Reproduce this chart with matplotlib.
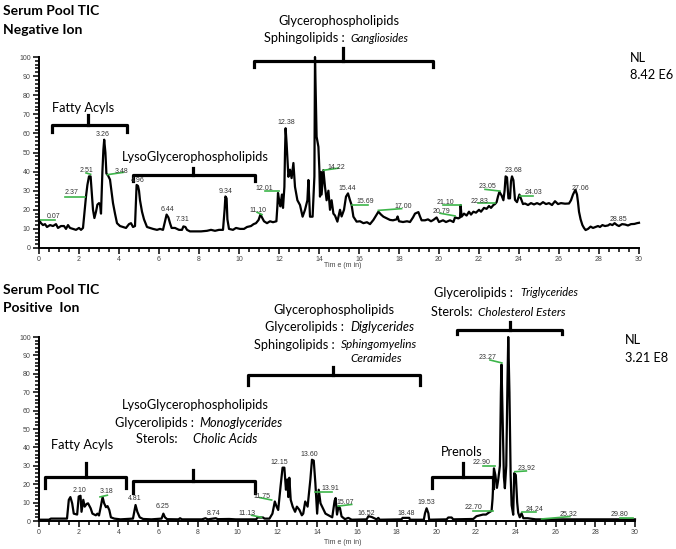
import matplotlib
matplotlib.use("Agg")
import matplotlib.pyplot as plt
from matplotlib.ticker import MultipleLocator

plt.rcParams['font.family'] = ['Lato', 'DejaVu Sans']

# negative ion TIC (relative abundance vs time, min)
neg_time = [0.0, 0.1, 0.2, 0.3, 0.4, 0.55, 0.7, 0.85, 0.95, 1.1, 1.25, 1.35, 1.45, 1.55, 1.7, 1.85,
            2.0, 2.1, 2.2, 2.27, 2.35, 2.42, 2.5, 2.58, 2.63, 2.7, 2.77, 2.85, 2.92, 3.0, 3.05, 3.1,
            3.17, 3.22, 3.26, 3.32, 3.37, 3.45, 3.55, 3.62, 3.7, 3.8, 3.9, 4.05, 4.2, 4.35, 4.5, 4.6,
            4.7, 4.8, 4.88, 4.95, 5.0, 5.05, 5.15, 5.25, 5.4, 5.55, 5.7, 5.9, 6.05, 6.2, 6.3, 6.38,
            6.47, 6.55, 6.63, 6.8, 7.0, 7.15, 7.22, 7.32, 7.4, 7.55, 7.8, 8.1, 8.4, 8.6, 8.8, 9.0,
            9.2, 9.28, 9.32, 9.38, 9.42, 9.5, 9.7, 9.85, 10.05, 10.25, 10.4, 10.6, 10.73, 10.85, 10.98, 11.07,
            11.15, 11.25, 11.4, 11.55, 11.7, 11.87, 11.92, 11.95, 12.02, 12.07, 12.12, 12.15, 12.2, 12.27, 12.3, 12.33,
            12.38, 12.47, 12.55, 12.63, 12.72, 12.8, 12.92, 13.05, 13.18, 13.3, 13.42, 13.47, 13.55, 13.68, 13.77, 13.8,
            13.88, 13.97, 14.02, 14.05, 14.1, 14.13, 14.22, 14.3, 14.38, 14.47, 14.55, 14.63, 14.72, 14.8, 14.92, 15.05,
            15.13, 15.25, 15.35, 15.45, 15.55, 15.63, 15.72, 15.88, 16.05, 16.22, 16.4, 16.55, 16.72, 16.88, 16.97, 17.1,
            17.22, 17.4, 17.55, 17.7, 17.88, 17.93, 18.0, 18.2, 18.4, 18.55, 18.7, 18.8, 18.97, 19.05, 19.13, 19.3,
            19.45, 19.6, 19.72, 19.88, 20.0, 20.2, 20.35, 20.55, 20.72, 20.8, 20.97, 21.05, 21.08, 21.13, 21.25, 21.38,
            21.5, 21.6, 21.72, 21.85, 22.0, 22.1, 22.25, 22.38, 22.5, 22.6, 22.72, 22.8, 22.88, 22.95, 23.02, 23.13,
            23.22, 23.28, 23.33, 23.4, 23.47, 23.55, 23.6, 23.65, 23.72, 23.8, 23.9, 24.02, 24.13, 24.2, 24.3, 24.45,
            24.6, 24.75, 24.9, 25.05, 25.2, 25.35, 25.5, 25.65, 25.8, 25.95, 26.1, 26.3, 26.5, 26.6, 26.7, 26.82,
            26.9, 26.95, 27.0, 27.08, 27.17, 27.25, 27.33, 27.45, 27.58, 27.7, 27.83, 27.95, 28.05, 28.17, 28.3, 28.45,
            28.55, 28.67, 28.78, 28.9, 29.0, 29.15, 29.3, 29.45, 29.6, 29.77, 29.9, 30.0]
neg_signal = [14.7, 13, 12, 12.5, 11, 12, 11.5, 12.5, 10.5, 11.5, 11.5, 10, 12, 10.5, 10, 9.5,
              10.5, 9.5, 10.5, 18, 27, 33, 37.5, 37.5, 30, 20, 15.7, 19, 22.7, 23.5, 23, 18,
              40, 51.5, 56.7, 50, 39, 38, 35.8, 30, 23.5, 18, 13, 11.5, 11, 10.5, 12.5, 13,
              11, 11.5, 33, 32.5, 30, 25, 19, 15, 11, 10.5, 10, 9.5, 10, 9.5, 14, 17.5,
              16, 13, 10.5, 10.5, 9.5, 9.5, 11.3, 11, 9.5, 8.7, 8.7, 8.7, 9, 9.5, 9, 9.5,
              9.5, 20, 27, 26, 15, 10, 9.5, 10.5, 10, 10, 11, 11.5, 12.5, 13, 14.7, 17.5,
              16, 14, 13, 14, 13.5, 14, 22, 28.8, 24, 21.8, 26, 28, 21, 32, 50, 62.7,
              54.8, 37.3, 41, 36.6, 44.5, 32, 25, 22.5, 16.4, 20, 25, 35.6, 16.4, 16.4, 37.5, 100,
              58.3, 53, 40.8, 26.9, 39.8, 28, 40.8, 32, 25, 30, 20, 25, 18, 17, 13.8, 20,
              16.5, 20, 26.9, 28.6, 25, 22.5, 16.4, 13.8, 14, 13, 13.5, 12.5, 14.7, 17.5, 19, 17.5,
              16.4, 15.5, 14.7, 14.5, 15, 16.5, 14, 13.6, 14, 13.6, 16, 18, 18.8, 16.5, 14.5, 14.5,
              15, 14, 14.7, 16, 13.6, 14.5, 13.6, 14.5, 13.6, 16, 15.5, 16, 22.5, 16.4, 18, 17,
              19, 17.5, 19, 18.5, 20, 19, 21, 20.5, 22, 21, 22.5, 23, 24, 27, 29.4, 27.5,
              25, 30, 37.5, 37, 26, 26, 35, 37.5, 35.5, 25.2, 24, 28, 25, 23, 23.3, 22.5,
              23.5, 22.8, 23.5, 22.8, 24, 23, 23.5, 22.5, 24.5, 23, 23.5, 23.2, 23.3, 25, 28, 30.5,
              28, 24, 19, 15, 12, 10.5, 9.4, 10, 11.2, 10.5, 11, 11.5, 11, 12, 11.5, 11.8,
              12.5, 12, 13, 12, 11.5, 12.5, 12.3, 11.8, 12.5, 12.6, 13, 13.2]

# positive ion TIC
pos_time = [0.0, 0.5, 0.6, 1.0, 1.41, 1.5, 1.58, 1.67, 1.75, 1.92, 2.0, 2.09, 2.14, 2.23, 2.3, 2.4,
            2.47, 2.6, 2.69, 2.86, 2.94, 3.02, 3.11, 3.2, 3.28, 3.37, 3.45, 3.54, 3.62, 3.79, 4.1, 4.73,
            4.81, 4.86, 4.95, 5.07, 5.24, 5.66, 6.17, 6.26, 6.34, 6.45, 7.02, 7.1, 7.2, 8.2, 8.38, 8.5,
            8.9, 9.0, 9.57, 9.9, 10.93, 11.0, 11.28, 11.35, 11.6, 11.75, 11.87, 11.96, 12.04, 12.16, 12.26, 12.35,
            12.43, 12.5, 12.55, 12.6, 12.67, 12.77, 12.89, 12.98, 13.11, 13.23, 13.3, 13.4, 13.52, 13.66, 13.74, 13.83,
            13.91, 14.0, 14.08, 14.17, 14.25, 14.42, 14.59, 14.76, 14.88, 14.93, 15.0, 15.08, 15.15, 15.23, 15.4, 15.57,
            15.74, 16.49, 16.58, 16.74, 16.99, 17.08, 17.15, 18.25, 18.3, 18.64, 18.67, 19.37, 19.43, 19.51, 19.6, 19.64,
            20.52, 20.6, 20.77, 20.85, 21.86, 22.02, 22.35, 22.5, 22.66, 22.78, 22.83, 22.9, 22.97, 23.05, 23.11, 23.2,
            23.25, 23.28, 23.33, 23.4, 23.45, 23.52, 23.58, 23.62, 23.68, 23.74, 23.79, 23.87, 23.92, 24.0, 24.07, 24.12,
            24.2, 24.29, 24.38, 24.6, 25.0, 26.0, 27.0, 28.0, 29.0, 30.0]
pos_signal = [0.7, 0.7, 1.3, 1.3, 1.3, 11.5, 13, 9.6, 4, 3.5, 13.3, 13.7, 5, 11.5, 7.8, 9.3,
              9.6, 6.9, 4, 3.1, 4, 3, 7.8, 13, 9.6, 7.5, 8.1, 5.9, 2, 1.3, 0.9, 1.3,
              5.9, 8.7, 5, 2, 1.1, 0.9, 1.3, 4, 2, 1, 0.9, 1.5, 0.9, 0.9, 1.5, 0.9,
              1.5, 1, 1.1, 0.9, 0.9, 1.9, 1.9, 1.3, 1.3, 4, 10.6, 7.8, 6, 18.9, 29, 29,
              17, 22.6, 13, 23.5, 11.5, 7.8, 5, 7.8, 6, 3.1, 4, 10.6, 7.8, 22.6, 33.3, 32.8,
              20.7, 4, 17, 9.6, 7.8, 4, 3, 2, 11, 12.5, 3.5, 8, 7, 2.5, 1, 1.7,
              0.7, 0.9, 2.6, 2.2, 0.9, 1.7, 0.7, 0.9, 1.7, 1.7, 0.7, 0.7, 4.2, 6.9, 4.2, 0.7,
              0.9, 1.9, 1.9, 0.9, 1.1, 2.6, 3.5, 3.5, 4.7, 5.5, 12, 28.6, 25, 18, 22, 30,
              70, 85, 60, 24, 17.8, 30, 75, 100, 70, 25, 8.6, 3.4, 26, 25, 10, 4.5,
              2, 4.2, 1.5, 1.5, 0.9, 0.9, 0.9, 0.9, 0.9, 0.9]

# retention time labels
neg_rt = ["0.07", "2.37", "2.51", "3.26", "3.48", "4.96", "6.44", "7.31", "9.34", "11.10", "12.01",
          "12.38", "14.22", "15.44", "15.69", "17.00", "20.79", "21.10", "22.83", "23.05", "23.68",
          "24.03", "27.06", "28.85"]
pos_rt = ["2.10", "3.18", "4.81", "6.25", "8.74", "11.13", "11.75", "12.15", "13.60", "13.91", "15.07",
          "16.52", "18.48", "19.53", "22.70", "22.90", "23.27", "23.92", "24.24", "25.32", "29.80"]

# label placement (x, y) and green leader (x0, y0, x1, y1) or None
neg_lab_pos = [(0.72, 16.6), (1.63, 28.8), (2.35, 40.7), (3.18, 59.3), (4.13, 40.0), (4.93, 35.4),
               (6.43, 20.0), (7.2, 14.8), (9.35, 29.7), (10.93, 19.8), (11.28, 31.0), (12.38, 65.6),
               (14.88, 42.4), (15.43, 31.0), (16.3, 24.4), (18.2, 21.5), (20.13, 19.2), (20.3, 23.9),
               (22.05, 24.5), (22.42, 32.0), (23.72, 40.7), (24.72, 29.3), (27.08, 30.9), (28.97, 14.9)]
neg_leaders = [(0.0, 14.8, 0.8, 14.8), (1.3, 26.7, 2.3, 26.7), (2.35, 39.3, 2.58, 38.6), None,
               (3.42, 38.4, 4.22, 39.6), None, None, None, None, (10.9, 18.7, 11.15, 17.5),
               (11.32, 30.0, 12.0, 30.0), None, (14.22, 40.7, 14.97, 41.8), None,
               (15.63, 22.5, 16.47, 22.5), (16.97, 19.7, 18.13, 20.6), (20.05, 18.2, 20.8, 16.8),
               (20.2, 22.6, 21.08, 22.6), (21.97, 23.4, 22.8, 23.4), (22.3, 30.7, 23.05, 29.8),
               None, (24.03, 27.2, 24.72, 27.2), None, None]
pos_lab_pos = [(2.06, 16.5), (3.41, 16.2), (4.83, 12.3), (6.21, 7.8), (8.77, 4.2), (10.45, 3.9),
               (11.2, 13.4), (12.1, 31.9), (13.6, 35.9), (14.65, 17.8), (15.4, 10.0), (16.49, 4.2),
               (18.5, 4.2), (19.51, 9.9), (21.86, 7.4), (22.28, 31.9), (22.6, 88.6), (24.53, 28.3),
               (24.96, 6.5), (26.64, 3.3), (29.23, 3.3)]
pos_leaders = [None, (3.07, 13.1, 3.44, 14.0), None, None, None, (10.7, 3.1, 11.2, 2.0),
               (11.12, 12.7, 11.71, 11.4), None, None, (13.89, 15.6, 14.73, 15.6),
               (15.06, 8.1, 15.74, 9.0), None, None, None, (21.86, 5.7, 22.83, 5.7),
               (22.33, 29.9, 22.95, 29.9), (22.7, 87.5, 23.3, 85.9), (23.95, 26.8, 24.53, 27.2),
               (24.29, 5.1, 25.04, 5.1), (25.3, 1.1, 26.72, 2.4), (29.23, 1.4, 29.9, 1.4)]

W, H = 676, 549
fig = plt.figure(figsize=(W / 100, H / 100), dpi=100)


def fpos(px, py):
    return px / W, 1 - py / H


def ftext(px, py, s, ha='center', **kw):
    x, y = fpos(px, py)
    kw.setdefault('fontsize', 9.2)
    fig.text(x, y, s, ha=ha, va='center', **kw)


def style_axis(ax):
    ax.set_xlim(0, 30)
    ax.set_ylim(0, 100)
    for s in ['top', 'right']:
        ax.spines[s].set_visible(False)
    for s in ['left', 'bottom']:
        ax.spines[s].set_linewidth(1.4)
    ax.xaxis.set_major_locator(MultipleLocator(2))
    ax.xaxis.set_minor_locator(MultipleLocator(0.5))
    ax.yaxis.set_major_locator(MultipleLocator(10))
    ax.yaxis.set_minor_locator(MultipleLocator(2))
    ax.tick_params(which='major', length=4, width=1.1, labelsize=5, labelcolor='#444444', pad=2)
    ax.tick_params(which='minor', length=3, width=1.1)
    for lab in ax.get_xticklabels() + ax.get_yticklabels():
        lab.set_family('Liberation Sans')


def brace(ax, x0, x1, xm, ybar, yend, ytip):
    ax.plot([x0, x0, x1, x1], [yend, ybar, ybar, yend], color='black', lw=2.3,
            solid_joinstyle='round', clip_on=False)
    ax.plot([xm, xm], [ybar, ytip], color='black', lw=2.3, clip_on=False)


def peak_labels(ax, labels, pos, leaders):
    for lab, (x, y), ld in zip(labels, pos, leaders):
        if ld is not None:
            ax.plot([ld[0], ld[2]], [ld[1], ld[3]], color='#3db54a', lw=1.2, clip_on=False)
        ax.text(x, y, lab, fontsize=5, ha='center', va='center', color='#333333',
                family='Liberation Sans')


# ---- negative ion panel ----
ax1 = fig.add_axes([39 / W, 1 - 248 / H, 600 / W, 191 / H])
style_axis(ax1)
ax1.plot(neg_time, neg_signal, color='black', lw=1.6, clip_on=False)
peak_labels(ax1, neg_rt, neg_lab_pos, neg_leaders)
brace(ax1, 0.65, 4.4, 2.45, 64.4, 60.7, 69.6)
brace(ax1, 4.7, 10.8, 7.7, 38.2, 35.0, 41.9)
brace(ax1, 10.75, 19.7, 15.2, 98.0, 94.8, 104.7)

# ---- positive ion panel ----
ax2 = fig.add_axes([39 / W, 1 - 521 / H, 596 / W, 184 / H])
style_axis(ax2)
ax2.plot(pos_time, pos_signal, color='black', lw=1.6, clip_on=False)
peak_labels(ax2, pos_rt, pos_lab_pos, pos_leaders)
brace(ax2, 0.3, 4.38, 2.37, 23.9, 17.9, 31.5)
brace(ax2, 4.73, 10.87, 7.75, 21.7, 15.2, 27.7)
brace(ax2, 19.78, 22.85, 21.34, 23.9, 17.9, 31.5)
brace(ax2, 10.52, 19.17, 14.8, 79.3, 73.9, 83.7)
brace(ax2, 21.04, 26.33, 23.7, 103.8, 101.6, 108.2)

# axis titles
ftext(343, 266, "Tim e (m in)", fontsize=5, color='#444444', family='Liberation Sans')
ftext(343, 542, "Tim e (m in)", fontsize=5, color='#444444', family='Liberation Sans')

# headers
ftext(3, 11, "Serum Pool TIC", ha='left', fontweight='bold', fontsize=10)
ftext(3, 30, "Negative Ion", ha='left', fontweight='bold', fontsize=10)
ftext(3, 290, "Serum Pool TIC", ha='left', fontweight='bold', fontsize=10)
ftext(3, 308, "Positive  Ion", ha='left', fontweight='bold', fontsize=10)

ftext(630, 58, "NL", ha='left')
ftext(630, 75, "8.42 E6", ha='left')
ftext(625, 340, "NL", ha='left')
ftext(625, 358, "3.21 E8", ha='left')

# lipid class annotations, top
ftext(83, 108, "Fatty Acyls")
ftext(195, 157, "LysoGlycerophospholipids")
ftext(339, 21, "Glycerophospholipids")
ftext(348, 38, "Sphingolipids : ", ha='right')
ftext(350, 38, "Gangliosides", ha='left', style='italic', fontsize=8)

# lipid class annotations, bottom
ftext(82, 445, "Fatty Acyls")
ftext(195, 405, "LysoGlycerophospholipids")
ftext(197, 423, "Glycerolipids : ", ha='right')
ftext(199, 423, "Monoglycerides", ha='left', style='italic')
ftext(184, 439, "Sterols:  ", ha='right')
ftext(193, 439, "Cholic Acids", ha='left', style='italic')
ftext(334, 310, "Glycerophospholipids")
ftext(347, 327, "Glycerolipids : ", ha='right')
ftext(350, 327, "Diglycerides", ha='left', style='italic')
ftext(338, 345, "Sphingolipids : ", ha='right')
ftext(341, 345, "Sphingomyelins", ha='left', style='italic', fontsize=8.5)
ftext(350, 358, "Ceramides", ha='left', style='italic', fontsize=8.5)
ftext(462, 452, "Prenols")
ftext(516, 293, "Glycerolipids : ", ha='right')
ftext(520, 293, "Triglycerides", ha='left', style='italic', fontsize=8)
ftext(476, 312, "Sterols: ", ha='right')
ftext(478, 312, "Cholesterol Esters", ha='left', style='italic', fontsize=8.5)

fig.savefig("out.png", dpi=100)
